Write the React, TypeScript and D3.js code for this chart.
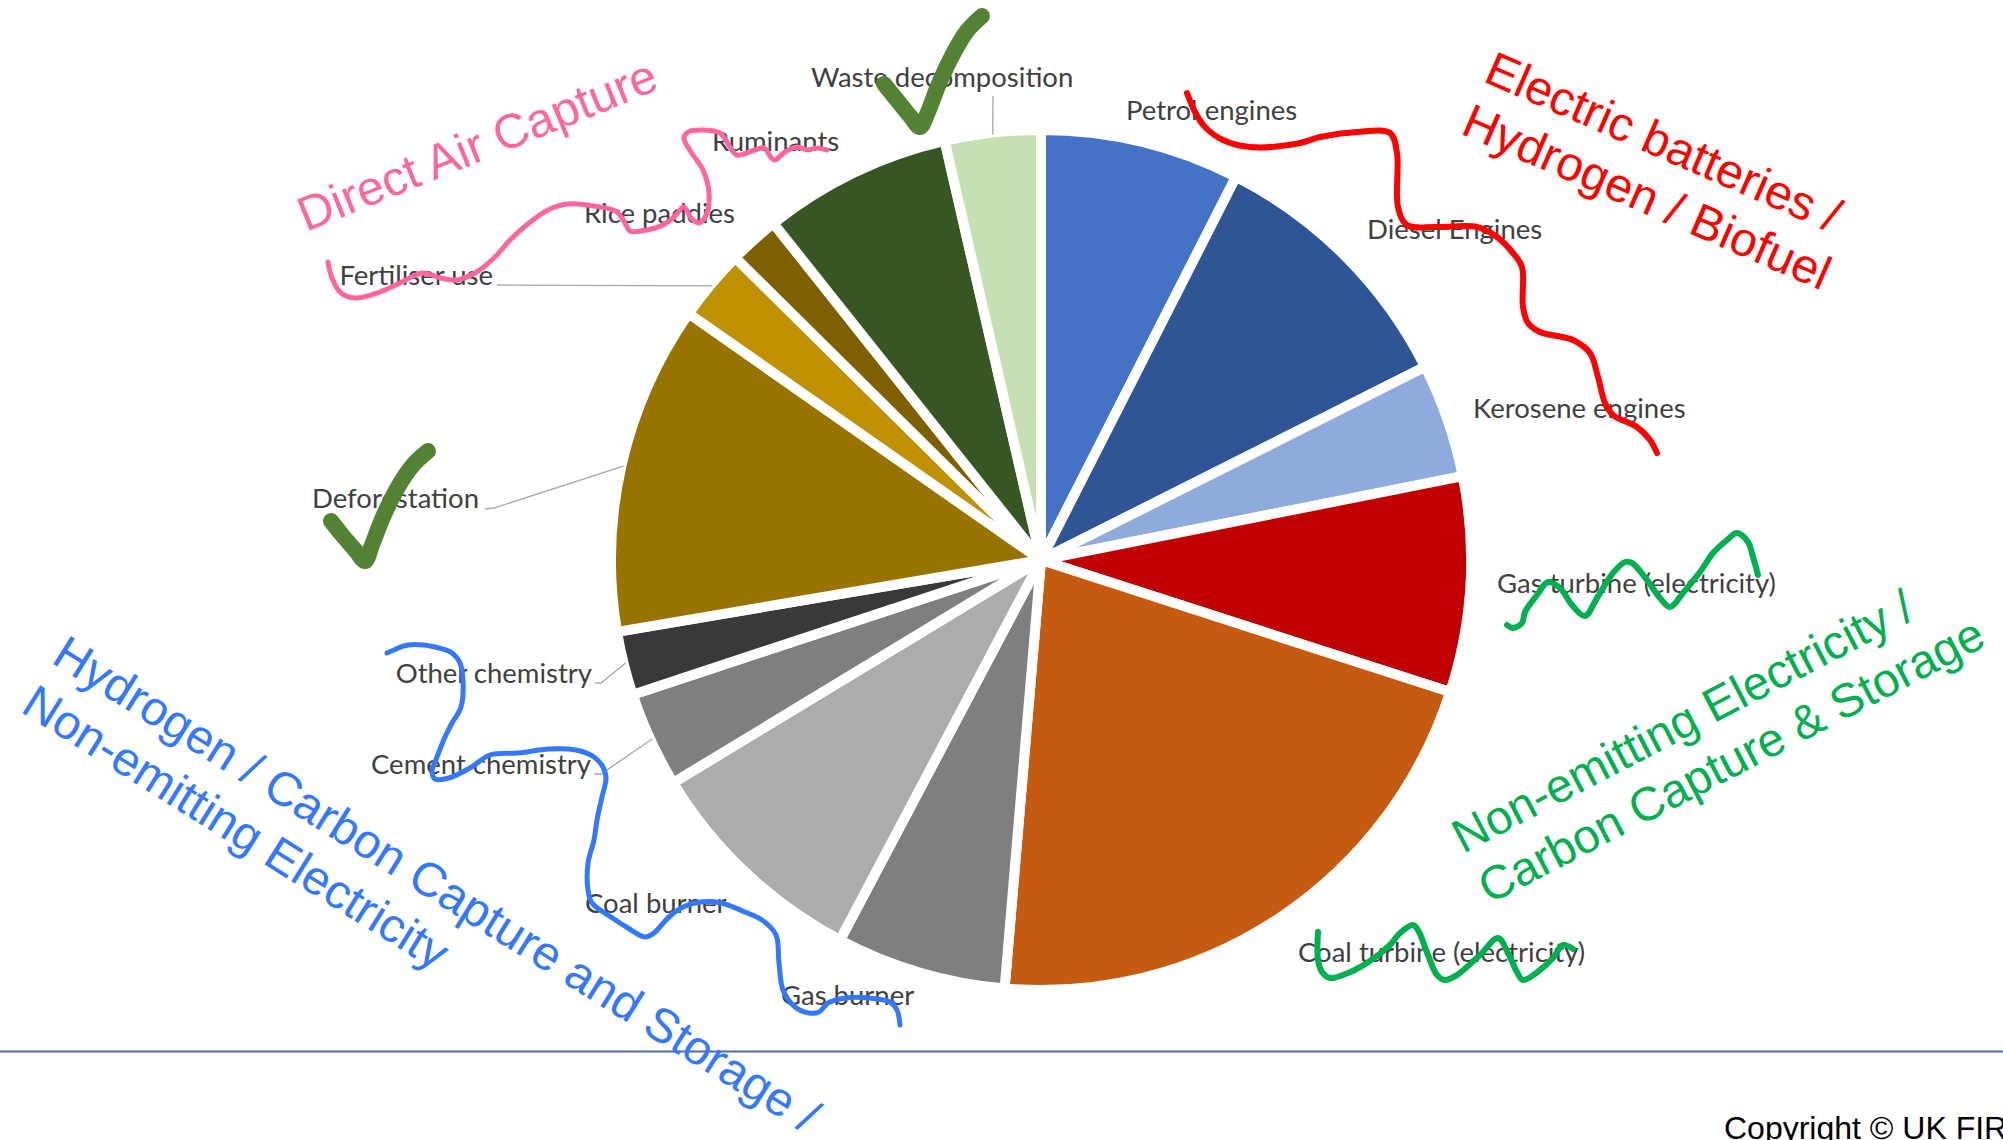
import React from "react";
import * as d3 from "d3";

// ---------- data ----------
const categories = [
  "Petrol engines",
  "Diesel Engines",
  "Kerosene engines",
  "Gas turbine (electricity)",
  "Coal turbine (electricity)",
  "Gas burner",
  "Coal burner",
  "Cement chemistry",
  "Other chemistry",
  "Deforestation",
  "Fertiliser use",
  "Rice paddies",
  "Ruminants",
  "Waste decomposition",
];
const shares = [7.5, 10.1, 4.3, 8.1, 21.4, 6.4, 8.6, 3.6, 2.4, 12.4, 2.7, 1.9, 7.1, 3.6];

// ---------- styles / layout ----------
const sliceColors = [
  "#4472C4", "#2F5597", "#8FAADC", "#C00000", "#C55A11", "#7F7F7F", "#AEABAB",
  "#7F7F7F", "#3A3838", "#997300", "#BF9000", "#7F6000", "#375623", "#C5E0B4",
];
// label anchor x, baseline y, text-anchor
const labelX = [1126, 1367, 1473, 1497, 1298, 781, 585, 591, 592, 479, 493, 584, 712, 811];
const labelY = [120, 239, 418, 593, 962, 1005, 913, 774, 683, 508, 285, 223, 151, 87];
const labelAnchor = ["start", "start", "start", "start", "start", "start", "start", "end", "end", "end", "end", "start", "start", "start"];
// leader knees (start, elbow) for labels that have leader lines
const leaderKnees: Record<string, [number, number][]> = {
  "Cement chemistry": [[594, 774], [601, 774]],
  "Other chemistry": [[595, 683], [601, 683]],
  Deforestation: [[485, 509], [494, 508]],
  "Fertiliser use": [[497, 285]],
  "Waste decomposition": [[993, 96]],
};

const cx = 1041;
const cy = 560;
const R = 430;

// hand-drawn annotations
const pinkScribble: [number, number][] = [
  [328, 262], [332, 278], [341, 293], [355, 298], [380, 292], [402, 282], [422, 273], [441, 278], [456, 280],
  [475, 273], [494, 258], [510, 240], [529, 223], [548, 210], [567, 204], [594, 206], [617, 212], [626, 225],
  [630, 231], [647, 230], [663, 225], [674, 217], [684, 207], [691, 218], [699, 223], [707, 213], [709, 193],
  [703, 170], [691, 152], [684, 138], [688, 132], [701, 130], [720, 133], [730, 147], [737, 155], [755, 150],
  [764, 148], [774, 160], [785, 152], [797, 147], [808, 150], [816, 148], [827, 150],
];
const redScribble: [number, number][] = [
  [1187, 93], [1195, 112], [1205, 127], [1223, 140], [1250, 147], [1300, 143], [1320, 137], [1357, 132],
  [1390, 133], [1397, 153], [1398, 207], [1407, 225], [1437, 227], [1477, 227], [1497, 237], [1513, 253],
  [1522, 267], [1523, 307], [1528, 323], [1540, 332], [1573, 340], [1590, 353], [1598, 377], [1605, 403],
  [1613, 415], [1637, 427], [1650, 440], [1657, 453],
];
const greenScribbleTop: [number, number][] = [
  [1507, 625], [1513, 628], [1522, 623], [1525, 612], [1537, 595], [1548, 582], [1560, 588], [1572, 605],
  [1585, 616], [1597, 598], [1613, 573], [1625, 562], [1632, 563], [1647, 580], [1660, 598], [1670, 607],
  [1683, 593], [1700, 572], [1713, 553], [1727, 540], [1737, 533], [1748, 542], [1753, 557], [1758, 575],
];
const greenScribbleBottom: [number, number][] = [
  [1318, 932], [1318, 960], [1322, 972], [1330, 978], [1343, 975], [1367, 963], [1390, 945], [1400, 933],
  [1413, 925], [1418, 930], [1428, 955], [1437, 975], [1445, 980], [1457, 975], [1480, 955], [1498, 938],
  [1508, 953], [1517, 972], [1523, 980], [1540, 970], [1553, 958], [1563, 945], [1573, 949],
];
const blueScribble: [number, number][] = [
  [387, 653], [394, 650], [408, 645], [435, 647], [452, 653], [460, 663], [463, 680], [461, 707], [452, 723],
  [445, 737], [437, 757], [432, 772], [435, 779], [449, 778], [470, 768], [490, 755], [518, 753], [549, 749],
  [576, 750], [594, 757], [603, 767], [606, 778], [602, 797], [597, 820], [594, 840], [588, 863], [588, 890],
  [592, 903], [611, 917], [628, 928], [645, 937], [654, 933], [669, 917], [683, 907], [700, 902], [721, 903],
  [745, 912], [762, 920], [776, 935], [779, 963], [783, 990], [795, 1007], [809, 1013], [819, 1012],
  [828, 1003], [845, 998], [869, 998], [890, 1002], [897, 1010], [900, 1025],
];
const checkTop: [number, number][] = [
  [884, 84], [897, 100], [910, 116], [920, 127], [928, 112], [938, 86], [952, 56], [967, 31], [982, 16],
];
const checkDefor: [number, number][] = [
  [331, 521], [343, 536], [356, 551], [365, 561], [372, 545], [383, 517], [398, 487], [413, 465], [428, 451],
];

type Note = { lines: string[]; x: number; y: number; angle: number; color: string; lh: number; size: number };
const notes: Note[] = [
  { lines: ["Direct Air Capture"], x: 306, y: 232, angle: -22, color: "#FF669E", lh: 57, size: 48.5 },
  { lines: ["Electric batteries /", "Hydrogen / Biofuel"], x: 1482, y: 81, angle: 23.5, color: "#FF0000", lh: 57, size: 48 },
  { lines: ["Non-emitting Electricity /", "Carbon Capture & Storage"], x: 1463, y: 854, angle: -27.5, color: "#00B050", lh: 57, size: 47.5 },
  { lines: ["Hydrogen / Carbon Capture and Storage /", "Non-emitting Electricity"], x: 50, y: 662, angle: 32, color: "#3378FF", lh: 58, size: 48 },
];

export default function App() {
  const pie = d3.pie<number>().sort(null).value((d) => d).startAngle(0).endAngle(2 * Math.PI);
  const arcs = pie(shares);
  const arc = d3.arc<d3.PieArcDatum<number>>().innerRadius(0).outerRadius(R);
  const leaderArc = d3.arc<d3.PieArcDatum<number>>().innerRadius(428).outerRadius(428);
  const scribble = d3.line().curve(d3.curveCatmullRom.alpha(0.5));
  const labelFont = "Lato, 'Open Sans', sans-serif";
  const noteFont = "'Liberation Sans', Arial, sans-serif";

  return (
    <svg
      width={2003}
      height={1140}
      style={{ position: "absolute", left: 0, top: 0, background: "#fff" }}
    >
      <rect x={0} y={0} width={2003} height={1140} fill="#fff" />
      <g transform={`translate(${cx},${cy})`}>
        {arcs.map((a, i) => (
          <path key={i} d={arc(a) || ""} fill={sliceColors[i]} stroke="#fff" strokeWidth={10} strokeLinejoin="round" />
        ))}
      </g>
      {/* leader lines */}
      {arcs.map((a, i) => {
        const knees = leaderKnees[categories[i]];
        if (!knees) return null;
        const [ex, ey] = leaderArc.centroid(a);
        const pts: [number, number][] = [...knees, [cx + ex, cy + ey]];
        return <path key={"l" + i} d={d3.line()(pts) || ""} fill="none" stroke="#A6A6A6" strokeWidth={1.3} />;
      })}
      {/* data labels */}
      {categories.map((c, i) => (
        <text
          key={"t" + i}
          x={labelX[i]}
          y={labelY[i]}
          textAnchor={labelAnchor[i] as any}
          fontFamily={labelFont}
          fontSize={27.5}
          fill="#404040"
        >
          {c}
        </text>
      ))}
      {/* bottom rule */}
      <line x1={0} x2={2003} y1={1051.5} y2={1051.5} stroke="#4F6BA3" strokeWidth={2} />
      <text x={1724} y={1139} fontFamily={noteFont} fontSize={32} fill="#000">
        Copyright © UK FIR
      </text>
      {/* scribbles */}
      <path d={scribble(pinkScribble) || ""} fill="none" stroke="#FF669E" strokeWidth={5} strokeLinecap="round" strokeLinejoin="round" />
      <path d={scribble(redScribble) || ""} fill="none" stroke="#FF0000" strokeWidth={6} strokeLinecap="round" strokeLinejoin="round" />
      <path d={scribble(greenScribbleTop) || ""} fill="none" stroke="#00B050" strokeWidth={6} strokeLinecap="round" strokeLinejoin="round" />
      <path d={scribble(greenScribbleBottom) || ""} fill="none" stroke="#00B050" strokeWidth={6} strokeLinecap="round" strokeLinejoin="round" />
      <path d={scribble(blueScribble) || ""} fill="none" stroke="#3378FF" strokeWidth={5} strokeLinecap="round" strokeLinejoin="round" />
      <path d={scribble(checkTop) || ""} fill="none" stroke="#548235" strokeWidth={16} strokeLinecap="round" strokeLinejoin="round" />
      <path d={scribble(checkDefor) || ""} fill="none" stroke="#548235" strokeWidth={16} strokeLinecap="round" strokeLinejoin="round" />
      {/* handwritten-style notes */}
      {notes.map((n, k) =>
        n.lines.map((line, j) => {
          const rad = (n.angle * Math.PI) / 180;
          const x = n.x - Math.sin(rad) * n.lh * j;
          const y = n.y + Math.cos(rad) * n.lh * j;
          return (
            <text
              key={`n${k}-${j}`}
              transform={`translate(${x},${y}) rotate(${n.angle})`}
              fontFamily={noteFont}
              fontSize={n.size}
              fill={n.color}
            >
              {line}
            </text>
          );
        })
      )}
    </svg>
  );
}
